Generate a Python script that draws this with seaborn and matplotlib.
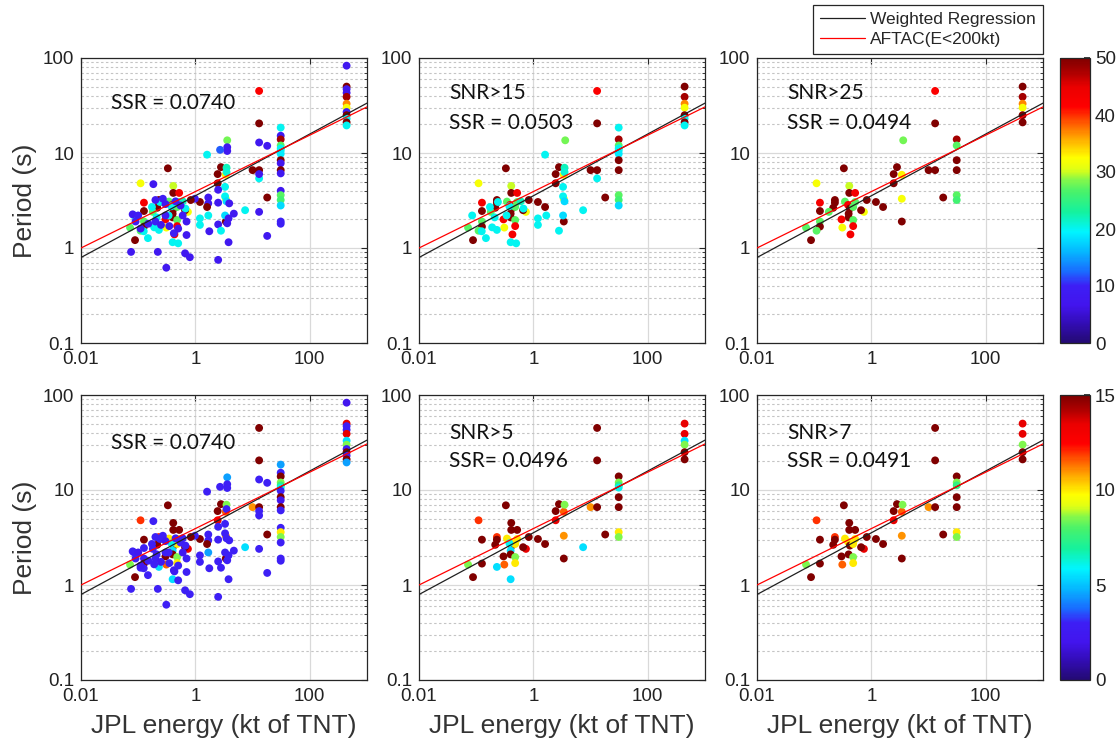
import numpy as np
import pandas as pd
import matplotlib
matplotlib.use("Agg")
import matplotlib.pyplot as plt
import seaborn as sns
from matplotlib.ticker import FixedLocator, FixedFormatter, LogLocator, NullFormatter, NullLocator
from matplotlib.colors import Normalize, LinearSegmentedColormap
from matplotlib.cm import ScalarMappable
from matplotlib.lines import Line2D

# ---------------- data ----------------
# one entry per event: JPL energy (kt), period (s), SNR measure A (top row), SNR measure B (bottom row)
energy = [
    # column near 440 kt
    440, 440, 440, 440, 440, 440, 440, 440, 440, 440, 440, 440,
    # column near 31 kt
    31, 31, 31, 31, 31, 31, 31, 31, 31, 31, 31, 31, 31, 31, 31, 31, 31,
    # 7-18 kt
    13, 13, 13, 10, 13, 13, 13, 13, 18, 18, 18, 7.4,
    # 0.6-5 kt
    3.6, 3.6, 3.6, 2.7, 1.6, 2.8, 2.45, 2.45, 3.4, 3.5, 3.5, 3.4, 3.4, 3.3, 3.3, 3.5, 3.3,
    3.8, 3.9, 3.6, 3.8, 4.7, 2.5, 2.5, 2.5, 2.5, 2.8, 1.68, 1.68, 1.68, 1.75, 1.6, 1.2,
    1.2, 1.2, 0.98, 0.83, 0.74, 0.66, 0.7, 0.7, 0.8, 0.66,
    # small events, high SNR
    0.33, 0.11, 0.41, 0.41, 0.52, 0.23, 0.23, 0.215, 0.345, 0.39, 0.42, 0.48, 0.52, 0.4,
    0.4, 0.3, 0.48, 0.48, 0.43, 0.31, 0.126, 0.126, 0.126, 0.126, 0.11, 0.072, 0.088, 0.18,
    # small events, medium SNR
    0.085, 0.125, 0.148, 0.23, 0.21, 0.174, 0.24, 0.34, 0.4, 0.5, 0.38, 0.67, 0.19, 0.6,
    # small events, low SNR
    0.184, 0.08, 0.1, 0.15, 0.2, 0.25, 0.3, 0.35, 0.42, 0.2, 0.27, 0.3, 0.45, 0.55, 0.6,
    0.5, 0.09, 0.11, 0.31, 0.22, 0.075,
]
period = [
    83, 50, 47, 43, 39, 33, 30, 27, 25, 23, 21, 19.5,
    18.5, 15.2, 13.9, 12.0, 11.2, 10.6, 9.8, 8.4, 7.8, 6.6, 6.1, 4.0, 3.6, 3.2, 2.8, 1.9, 1.8,
    45, 20.5, 12.9, 6.6, 6.6, 5.4, 6.0, 2.4, 11.9, 3.4, 1.34, 2.5,
    13.6, 11.5, 10.5, 10.8, 9.6, 7.1, 6.0, 4.8, 5.9, 7.0, 6.3, 3.3, 1.9, 4.4, 3.5, 3.1, 2.2,
    2.05, 2.95, 1.82, 1.15, 2.3, 4.1, 3.0, 1.77, 0.75, 1.52, 3.4, 2.95, 2.2, 1.5, 2.7, 3.05,
    2.05, 1.75, 3.3, 3.2, 2.4, 2.5, 1.9, 1.37, 0.8, 0.88,
    6.9, 4.8, 4.5, 3.8, 3.8, 3.2, 3.0, 2.65, 3.08, 2.84, 2.6, 2.7, 3.05, 2.3,
    2.1, 2.0, 1.97, 1.7, 1.39, 1.64, 2.45, 3.0, 1.9, 1.68, 1.52, 1.64, 1.21, 2.4,
    2.2, 1.5, 1.27, 1.55, 2.1, 2.7, 3.05, 2.2, 1.15, 1.12, 2.75, 2.6, 1.65, 3.1,
    4.7, 2.26, 2.2, 1.8, 1.9, 1.75, 2.2, 1.7, 1.43, 3.2, 3.3, 2.9, 3.1, 2.8, 2.2,
    1.6, 1.9, 1.6, 0.62, 0.91, 0.91,
]
snr_a = [
    8, 50, 8, 7, 48, 37, 32, 10, 50, 20, 50, 20,
    20, 8, 48, 27, 20, 20, 19, 50, 7, 50, 8, 8, 27, 26, 18, 10, 10,
    42, 50, 8, 50, 50, 20, 8, 8, 8, 50, 8, 20,
    28, 8, 8, 12, 20, 50, 50, 50, 33, 22, 21, 32, 50, 20, 20, 18, 18,
    8, 8, 8, 8, 8, 8, 8, 8, 8, 20, 8, 8, 20, 8, 50, 50,
    20, 20, 8, 50, 32, 50, 8, 8, 8, 8,
    50, 32, 30, 50, 43, 50, 50, 50, 27, 43, 50, 27, 27, 50,
    50, 43, 27, 43, 43, 32, 50, 43, 27, 50, 27, 27, 50, 27,
    20, 20, 20, 20, 20, 20, 20, 20, 20, 20, 20, 20, 20, 22,
    8, 8, 9, 8, 10, 8, 9, 8, 10, 8, 9, 8, 10, 8, 9,
    8, 10, 8, 8, 8, 8,
]
snr_b = [
    2, 13.5, 3, 3, 13.5, 5.5, 8.5, 3, 15, 3, 15, 4.5,
    4.5, 3, 15, 8.5, 7.5, 6, 3, 15, 2, 15, 3, 3, 10, 8.5, 3, 3, 3,
    15, 15, 3, 11, 15, 3, 3, 3, 3, 15, 3, 5.5,
    4.5, 3, 3, 3, 3, 15, 15, 13.5, 11.5, 8.5, 3, 11, 15, 3, 3, 3, 3,
    3, 3, 3, 3, 3, 3, 3, 3, 3, 3, 3, 3, 4.5, 3, 15, 15,
    3, 3, 3, 15, 13.5, 15, 3, 3, 3, 3,
    15, 12, 15, 15, 15, 12, 15, 15, 10, 10, 15, 10, 10, 5.5,
    15, 15, 8.5, 10, 3, 11.5, 3, 15, 3, 15, 3, 8.5, 15, 3,
    3, 3, 3, 5.5, 3, 3, 3, 3, 5.5, 3, 6, 3, 3, 3,
    3, 3, 2.5, 3, 3, 2.5, 3, 3, 2.5, 3, 3, 2.5, 3, 3, 2.5,
    3, 3, 2.5, 3, 3, 3,
]
assert len(energy) == len(period) == len(snr_a) == len(snr_b)

# regression lines: log10(P) = intercept + slope * log10(E)
weighted_intercept, weighted_slope = 0.55, 0.325
aftac_intercept, aftac_slope = 0.594, 0.297

# panels: (colour column, threshold, colour range max, texts)
panel_color_col = ["snr_a", "snr_a", "snr_a", "snr_b", "snr_b", "snr_b"]
panel_threshold = [None, 15, 25, None, 5, 7]
panel_vmax = [50, 50, 50, 15, 15, 15]
panel_texts = [["SSR = 0.0740"], ["SNR>15", "SSR = 0.0503"], ["SNR>25", "SSR = 0.0494"],
               ["SSR = 0.0740"], ["SNR>5", "SSR= 0.0496"], ["SNR>7", "SSR = 0.0491"]]

xtick_values = [0.01, 1, 100]
xtick_labels = ["0.01", "1", "100"]
ytick_values = [0.1, 1, 10, 100]
ytick_labels = ["0.1", "1", "10", "100"]
cbar_ticks_top = [0, 10, 20, 30, 40, 50]
cbar_ticks_bottom = [0, 5, 10, 15]

legend_labels = ["Weighted Regression", "AFTAC(E<200kt)"]

# ---------------- figure ----------------
sns.set_theme(style="white")
plt.rcParams["font.family"] = ["Liberation Sans", "DejaVu Sans"]

# jet-like colour map as it appears in the reference
jet = LinearSegmentedColormap.from_list("refjet", [
    (0.00, (0.14, 0.04, 0.45)),
    (0.07, (0.20, 0.05, 0.72)),
    (0.13, (0.26, 0.08, 0.93)),
    (0.20, (0.24, 0.12, 0.96)),
    (0.25, (0.10, 0.42, 1.00)),
    (0.32, (0.02, 0.72, 1.00)),
    (0.39, (0.00, 0.96, 1.00)),
    (0.46, (0.08, 0.95, 0.62)),
    (0.53, (0.28, 0.95, 0.42)),
    (0.57, (0.50, 0.97, 0.30)),
    (0.61, (0.88, 1.00, 0.08)),
    (0.65, (1.00, 1.00, 0.00)),
    (0.72, (1.00, 0.65, 0.00)),
    (0.79, (1.00, 0.25, 0.00)),
    (0.83, (1.00, 0.00, 0.00)),
    (0.90, (0.92, 0.00, 0.00)),
    (0.95, (0.68, 0.00, 0.00)),
    (1.00, (0.50, 0.00, 0.00)),
])

df = pd.DataFrame({"E": energy, "P": period, "snr_a": snr_a, "snr_b": snr_b})

W, H = 1119, 750
fig = plt.figure(figsize=(W / 100, H / 100), dpi=100)

col_x = [81, 419, 757]
row_y = [58, 395]
ax_w, ax_h = 286, 285

e_line = np.logspace(-2, 3, 60)
lines_df = pd.DataFrame({
    "E": np.concatenate([e_line, e_line]),
    "P": np.concatenate([10 ** (weighted_intercept + weighted_slope * np.log10(e_line)),
                         10 ** (aftac_intercept + aftac_slope * np.log10(e_line))]),
    "kind": [legend_labels[0]] * len(e_line) + [legend_labels[1]] * len(e_line),
})

spine_c = "#262626"
for i in range(6):
    r, c = divmod(i, 3)
    left = col_x[c] / W
    bottom = 1 - (row_y[r] + ax_h) / H
    ax = fig.add_axes([left, bottom, ax_w / W, ax_h / H])
    ax.set_xscale("log")
    ax.set_yscale("log")

    sub = df if panel_threshold[i] is None else df[df[panel_color_col[i]] > panel_threshold[i]]
    sns.scatterplot(data=sub, x="E", y="P", hue=panel_color_col[i], palette=jet,
                    hue_norm=Normalize(0, panel_vmax[i], clip=True), s=32, edgecolor="none",
                    linewidth=0, legend=False, ax=ax, zorder=3)
    sns.lineplot(data=lines_df, x="E", y="P", hue="kind",
                 palette={legend_labels[0]: "#202020", legend_labels[1]: "#ff0000"},
                 linewidth=0.9, legend=False, ax=ax, zorder=4)

    ax.set_xlim(0.01, 1000)
    ax.set_ylim(0.1, 100)
    ax.xaxis.set_major_locator(FixedLocator(xtick_values))
    ax.xaxis.set_major_formatter(FixedFormatter(xtick_labels))
    ax.xaxis.set_minor_locator(NullLocator())
    ax.yaxis.set_major_locator(FixedLocator(ytick_values))
    ax.yaxis.set_major_formatter(FixedFormatter(ytick_labels))
    ax.yaxis.set_minor_locator(LogLocator(base=10, subs=np.arange(2, 10), numticks=20))
    ax.yaxis.set_minor_formatter(NullFormatter())

    ax.set_axisbelow(True)
    ax.grid(True, which="major", color="#d9d9d9", linewidth=0.9, linestyle="-")
    ax.grid(True, which="minor", axis="y", color="#c4c4c4", linewidth=0.8, linestyle=(0, (2.2, 2.2)))
    ax.grid(False, which="minor", axis="x")

    for sp in ax.spines.values():
        sp.set_color(spine_c)
        sp.set_linewidth(0.9)
        sp.set_visible(True)
    ax.tick_params(which="both", direction="in", top=True, right=True, colors=spine_c,
                   labelcolor="#222222", labelsize=13.5)
    ax.tick_params(which="major", length=4, width=0.8)
    ax.tick_params(which="minor", length=2, width=0.6)
    ax.tick_params(axis="x", pad=6)
    ax.tick_params(axis="y", pad=5)

    ax.set_xlabel("JPL energy (kt of TNT)" if r == 1 else "", fontsize=19, color="#333333", labelpad=6)
    ax.set_ylabel("Period (s)" if c == 0 else "", fontsize=19, color="#333333", labelpad=4)

    texts = panel_texts[i]
    if len(texts) == 1:
        ys = [0.842 if r == 0 else 0.832]
    else:
        ys = [0.877, 0.772] if r == 0 else [0.867, 0.768]
    for t, yy in zip(texts, ys):
        ax.text(0.105, yy, t, transform=ax.transAxes, fontsize=15, va="center", ha="left",
                family=["Lato", "DejaVu Sans"], color="#111111", zorder=5)

# colorbars
for r, (vmax, ticks) in enumerate([(50, cbar_ticks_top), (15, cbar_ticks_bottom)]):
    cax = fig.add_axes([1060 / W, 1 - (row_y[r] + ax_h) / H, 30 / W, ax_h / H])
    sm = ScalarMappable(norm=Normalize(0, vmax), cmap=jet)
    cb = fig.colorbar(sm, cax=cax, ticks=ticks)
    cb.outline.set_edgecolor(spine_c)
    cb.outline.set_linewidth(0.9)
    cax.tick_params(direction="in", length=4, labelsize=13.5, colors=spine_c, labelcolor="#222222")

# legend
handles = [Line2D([], [], color="#202020", lw=0.9), Line2D([], [], color="#ff0000", lw=0.9)]
leg = fig.legend(handles, legend_labels, loc="upper right", bbox_to_anchor=(1043 / W, 1 - 5 / H),
                 fontsize=12.5, frameon=True, fancybox=False, edgecolor=spine_c, framealpha=1,
                 handlelength=2.6, handletextpad=0.3, borderpad=0.4, labelspacing=0.3,
                 borderaxespad=0)
leg.get_frame().set_linewidth(0.9)

fig.savefig("out.png", dpi=100)
